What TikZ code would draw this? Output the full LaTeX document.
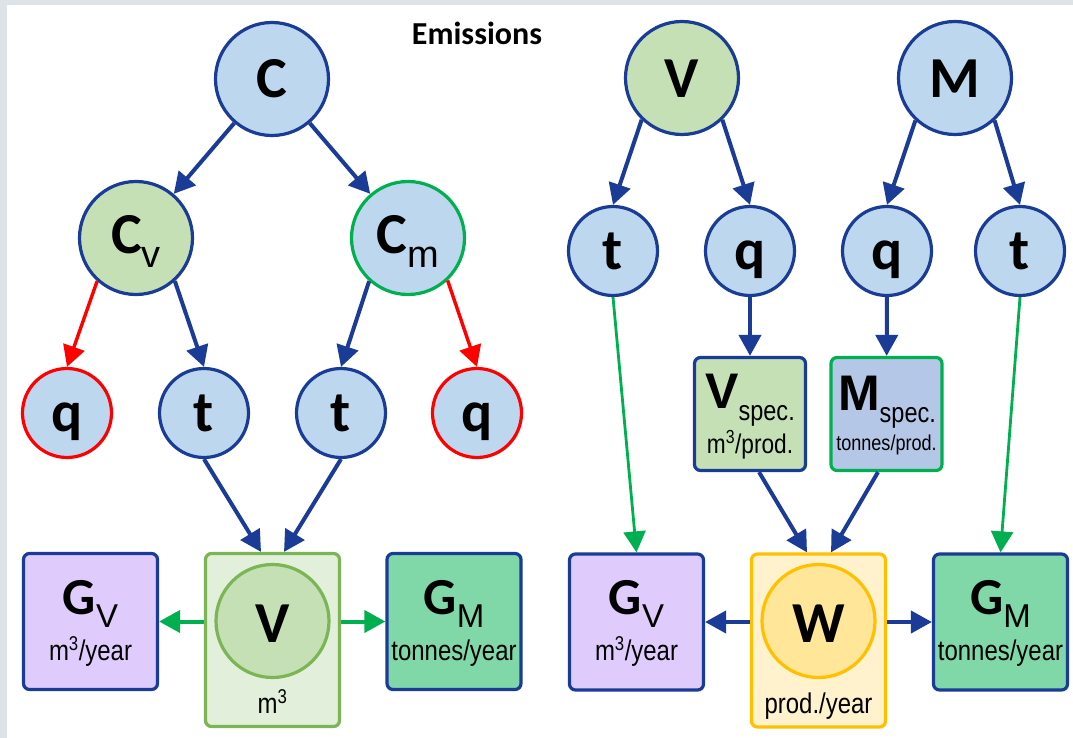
\documentclass[tikz,border=0pt]{standalone}
\usepackage{fontspec}
\setmainfont{Liberation Sans}
\newfontfamily\calfont{Carlito}
\newfontfamily\narrowfont{Liberation Sans}[FakeStretch=0.84]
\usetikzlibrary{arrows.meta,calc}
\definecolor{bgray}{HTML}{DEE3E8}
\definecolor{nblue}{HTML}{1A3C96}
\definecolor{lblue}{HTML}{BDD7EE}
\definecolor{lgreen}{HTML}{C5E0B4}
\definecolor{ogreen}{HTML}{00B050}
\definecolor{mgreen}{HTML}{7CB556}
\definecolor{vlgreen}{HTML}{E2EFDA}
\definecolor{lavfill}{HTML}{E0CCFC}
\definecolor{gmfill}{HTML}{80D8A8}
\definecolor{sblue}{HTML}{B4C7E7}
\definecolor{ylfill}{HTML}{FFF2CC}
\definecolor{yborder}{HTML}{FFC000}
\definecolor{ycirc}{HTML}{FFE699}
\definecolor{rred}{HTML}{FF0000}
\newcommand\letterfont{\calfont\bfseries\fontsize{58}{60}\selectfont}
\newcommand\csubfont{\normalfont\fontsize{38}{40}\selectfont}
\newcommand\gfont{\calfont\bfseries\fontsize{52}{54}\selectfont}
\newcommand\gsubfont{\normalfont\fontsize{33}{35}\selectfont}
\newcommand\specbig{\normalfont\bfseries\fontsize{50}{52}\selectfont}
\newcommand\specsub{\normalfont\narrowfont\fontsize{28}{30}\selectfont}
\newcommand\unitfont{\normalfont\narrowfont\fontsize{28.5}{30}\selectfont}
\newcommand\smallunitfont{\normalfont\narrowfont\fontsize{21.5}{23}\selectfont}
\begin{document}
\begin{tikzpicture}[x=1pt,y=-1pt,
  circ/.style={circle, draw=nblue, fill=lblue, line width=3.2pt, inner sep=0pt,
    text height=36pt, text depth=0pt, font=\letterfont},
  bigc/.style={circ, minimum size=113pt},
  smallc/.style={circ, minimum size=89pt},
  boxnode/.style={rectangle, rounded corners=6pt, line width=3.2pt, draw=nblue, inner sep=0pt},
  gbox/.style={boxnode, minimum width=134pt, minimum height=136pt},
  tallbox/.style={boxnode, minimum width=134pt, minimum height=173pt},
  specbox/.style={boxnode, minimum width=111pt, minimum height=113pt},
  unit/.style={anchor=base, inner sep=0pt, font=\unitfont},
  gtext/.style={anchor=base, inner sep=0pt},
  arr/.style={line width=4pt, color=nblue, -{Triangle[length=21pt,width=22pt]}},
  redarr/.style={arr, color=rred, line width=3.4pt},
  garr/.style={arr, color=ogreen},
  thinarr/.style={arr, color=ogreen, line width=2.8pt}
]
\fill[bgray] (0,0) rectangle (1073,738);
\fill[white] (7,5) rectangle (1073,738);
\useasboundingbox (0,0) rectangle (1073,738);

\node[font=\calfont\bfseries\fontsize{32}{34}\selectfont] (title) at (477,33) {Emissions};

% ---------- left tree ----------
\node[bigc, text height=38pt] (C) at (272,79) {C};
\node[bigc, fill=lgreen, text height=30pt] (Cv) at (136,238) {C{\csubfont\raisebox{-14pt}{v}}};
\node[bigc, draw=ogreen, text height=30pt] (Cm) at (408,238) {C{\csubfont\raisebox{-14pt}{m}}};
\node[smallc, draw=rred] (q1) at (67,413) {q};
\node[smallc] (t1) at (204,413) {t};
\node[smallc] (t2) at (341,413) {t};
\node[smallc, draw=rred] (q2) at (477,413) {q};

\node[gbox, fill=lavfill] (GvL) at (90.5,621.5) {};
\node[tallbox, draw=mgreen, fill=vlgreen] (VL) at (272.5,640) {};
\node[gbox, fill=gmfill] (GML) at (454,621.5) {};
\node[circ, draw=mgreen, fill=lgreen, minimum size=113pt, text height=42pt] (VLc) at (272.5,621) {V};

\node[gtext] (GvLt) at (90.5,614) {\gfont G{\gsubfont\raisebox{-13pt}{V}}};
\node[unit] (GvLu) at (90.5,660) {m\textsuperscript{3}/year};
\node[unit] (VLu) at (272.5,713) {m\textsuperscript{3}};
\node[gtext] (GMLt) at (454,614) {\gfont G{\gsubfont\raisebox{-13pt}{M}}};
\node[unit] (GMLu) at (454,660) {tonnes/year};

\draw[arr] (C) -- (Cv);
\draw[arr] (C) -- (Cm);
\draw[redarr] (Cv.228) -- (q1.north);
\draw[arr] (Cv.312) -- (t1.north);
\draw[arr] (Cm.228) -- (t2.north);
\draw[redarr] (Cm.313) -- (q2.north);
\draw[arr] (t1.south) -- ([xshift=-11.5pt]VL.north);
\draw[arr] (t2.south) -- ([xshift=11.5pt]VL.north);
\draw[garr] (VL.west |- GvL.east) -- (GvL.east);
\draw[garr] (VL.east |- GML.west) -- (GML.west);

% ---------- right tree ----------
\node[bigc, fill=lgreen, text height=40pt] (V) at (682,78) {V};
\node[bigc, text height=40pt] (M) at (955,78) {M};
\node[smallc] (tR1) at (613,251) {t};
\node[smallc] (qR1) at (750,251) {q};
\node[smallc] (qR2) at (887,251) {q};
\node[smallc] (tR2) at (1020,251) {t};

\node[specbox, fill=lgreen] (Vspec) at (750,414) {};
\node[specbox, draw=ogreen, fill=sblue] (Mspec) at (886.5,414) {};
\node[gtext] (Vspect) at (750,408) {\specbig V{\specsub\raisebox{-12pt}{spec.}}};
\node[unit, font=\normalfont\narrowfont\fontsize{27}{29}\selectfont] (Vspecu) at (750,453) {m\textsuperscript{3}/prod.};
\node[gtext] (Mspect) at (887,410) {\specbig M{\specsub\raisebox{-12pt}{spec.}}};
\node[unit, font=\smallunitfont] (Mspecu) at (886.5,450) {tonnes/prod.};

\node[gbox, fill=lavfill] (GvR) at (636.5,622) {};
\node[tallbox, draw=yborder, fill=ylfill] (W) at (818.5,640.5) {};
\node[gbox, fill=gmfill] (GMR) at (1000.5,622) {};
\node[circ, draw=yborder, fill=ycirc, minimum size=113pt, text height=42pt] (Wc) at (818.5,621) {W};

\node[gtext] (GvRt) at (636.5,614) {\gfont G{\gsubfont\raisebox{-13pt}{V}}};
\node[unit] (GvRu) at (636.5,660) {m\textsuperscript{3}/year};
\node[unit] (Wu) at (818.5,713) {prod./year};
\node[gtext] (GMRt) at (1000.5,614) {\gfont G{\gsubfont\raisebox{-13pt}{M}}};
\node[unit] (GMRu) at (1000.5,660) {tonnes/year};

\draw[arr] (V.226) -- (tR1.north);
\draw[arr] (V.314) -- (qR1.north);
\draw[arr] (M.227) -- (qR2.north);
\draw[arr] (M.313) -- (tR2.north);
\draw[arr] (qR1) -- (Vspec);
\draw[arr] (qR2) -- (Mspec);
\draw[thinarr] (tR1.south) -- (GvR.north);
\draw[thinarr] (tR2.south) -- (GMR.north);
\draw[arr] ([xshift=9pt]Vspec.south) -- ([xshift=-11.5pt]W.north);
\draw[arr] ([xshift=-8.5pt]Mspec.south) -- ([xshift=12.5pt]W.north);
\draw[arr] (W.west |- GvR.east) -- (GvR.east);
\draw[arr] (W.east |- GMR.west) -- (GMR.west);
\end{tikzpicture}
\end{document}
